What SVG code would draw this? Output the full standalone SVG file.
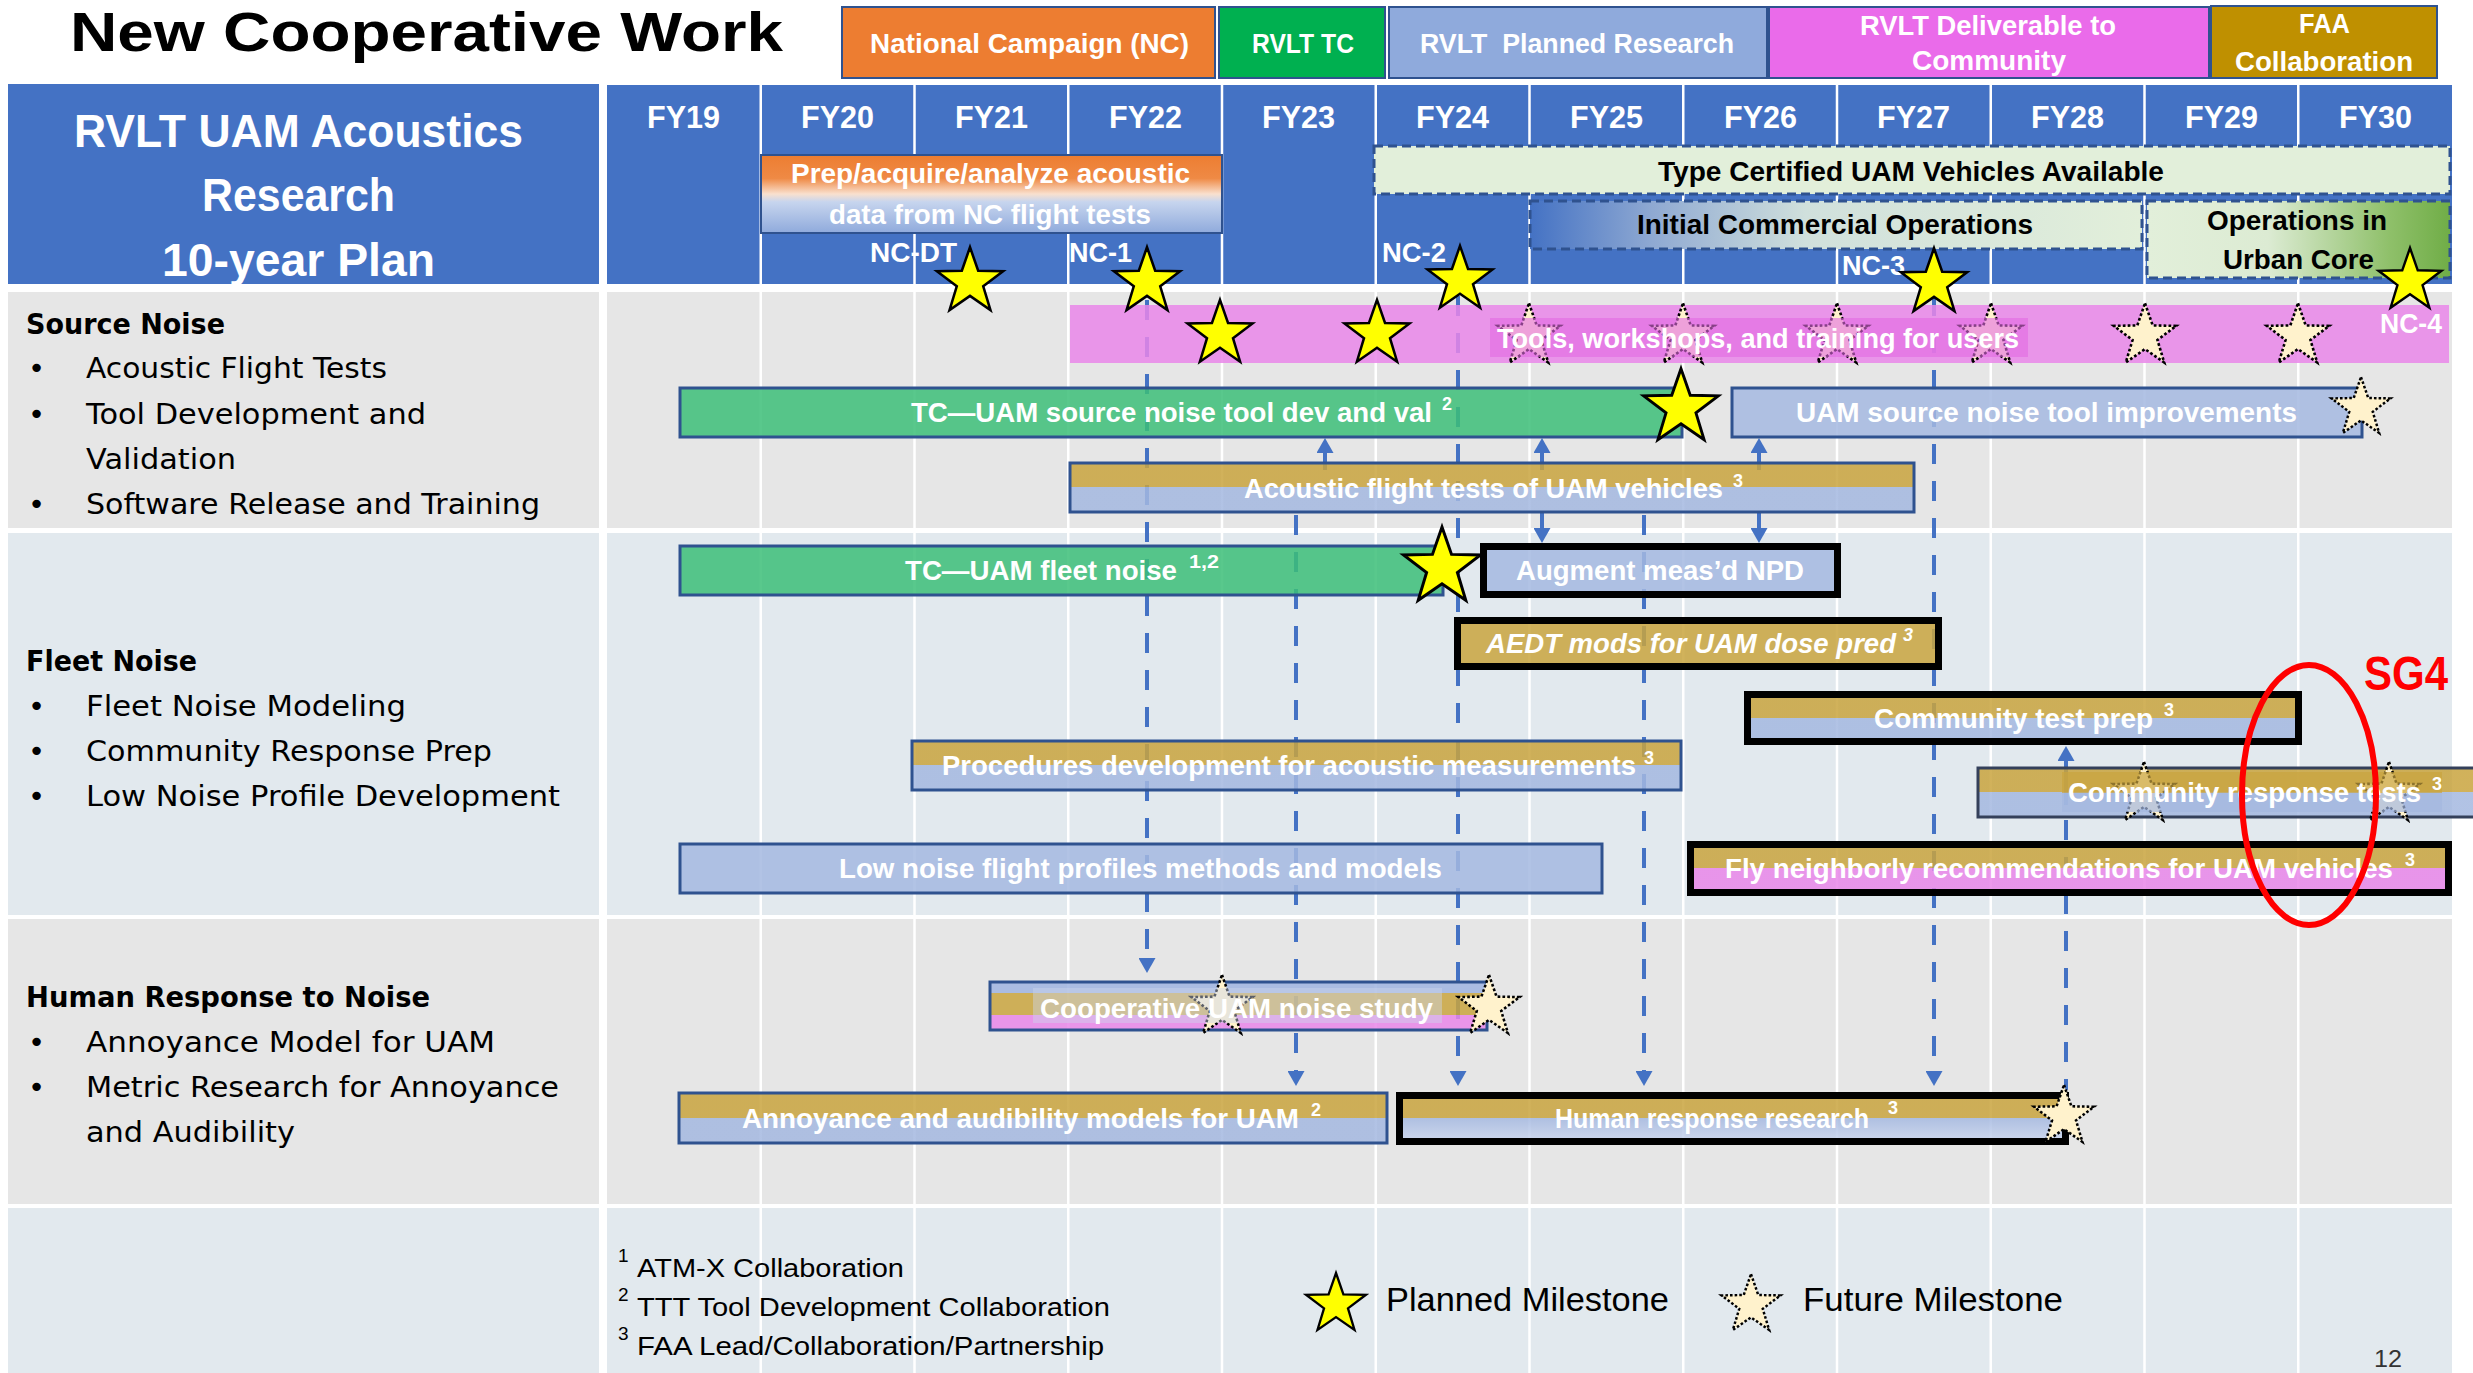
<svg xmlns="http://www.w3.org/2000/svg" width="2473" height="1373" viewBox="0 0 2473 1373">
<style>
text{font-family:"Liberation Sans",Arial,sans-serif}
.t{font-weight:bold;fill:#fff;font-size:28px}
.ti{font-weight:bold;font-style:italic;fill:#fff;font-size:28px}
.sup{font-weight:bold;fill:#fff;font-size:18px}
.lc{font-family:"DejaVu Sans",Verdana,sans-serif;font-size:29px;fill:#000}
.lh{font-family:"DejaVu Sans",Verdana,sans-serif;font-size:29px;font-weight:bold;fill:#000}
.fy{font-weight:bold;fill:#fff;font-size:31px}
.hd{font-weight:bold;fill:#000;font-size:27px}
.lg{font-weight:bold;fill:#fff;font-size:27px}
.nc{font-weight:bold;fill:#fff;font-size:27px}
.bb{stroke:#2F528F;stroke-width:3}
.bk{stroke:#000;stroke-width:7}
.op{fill-opacity:0.85}
.dash{stroke:#4472C4;stroke-width:4;stroke-dasharray:20 17;fill:none}
.solid{stroke:#4472C4;stroke-width:4;fill:none}
.pm{fill:#FFFF00;stroke:#000;stroke-width:2.2}
.fm{fill:#FFF2CC;stroke:#000;stroke-width:2.4;stroke-dasharray:2.5 2}
.grid{stroke:#fff;stroke-width:2.5;fill:none}
.ft{font-size:26px;fill:#000}
.fs{font-size:19px;fill:#000}
.lgd{font-size:33px;fill:#000}
.dashbox{stroke:#2F528F;stroke-width:3;stroke-dasharray:9 5}
</style>
<defs>
<path id="star" d="M0,-30 L7.05,-9.71 L28.53,-9.27 L11.41,3.71 L17.63,24.27 L0,12 L-17.63,24.27 L-11.41,3.71 L-28.53,-9.27 L-7.05,-9.71 Z"/>
<marker id="ah" markerUnits="userSpaceOnUse" markerWidth="15" markerHeight="17" refX="11" refY="8.5" orient="auto"><path d="M0,0 L15,8.5 L0,17 Z" fill="#4472C4"/></marker>
<linearGradient id="prep" x1="0" y1="0" x2="0" y2="1"><stop offset="0" stop-color="#ED7D31"/><stop offset="0.3" stop-color="#EF8A45"/><stop offset="0.5" stop-color="#F9E0CE"/><stop offset="0.6" stop-color="#C7D5EE"/><stop offset="1" stop-color="#8FAADC"/></linearGradient>
<linearGradient id="ico" x1="0" y1="0" x2="1" y2="0"><stop offset="0" stop-color="#4472C4"/><stop offset="0.2" stop-color="#8FA9D2"/><stop offset="0.45" stop-color="#D0E0DC"/><stop offset="1" stop-color="#E2EFDA"/></linearGradient>
<linearGradient id="urb" x1="0" y1="0" x2="1" y2="0"><stop offset="0" stop-color="#E2EFDA"/><stop offset="0.4" stop-color="#DCEBD3"/><stop offset="0.8" stop-color="#8FC06A"/><stop offset="1" stop-color="#70AD47"/></linearGradient>
<linearGradient id="gb" x1="0" y1="0" x2="0" y2="1"><stop offset="0.5" stop-color="#C9A43E"/><stop offset="0.5" stop-color="#A4B8E0"/></linearGradient>
<linearGradient id="gm" x1="0" y1="0" x2="0" y2="1"><stop offset="0.5" stop-color="#C9A43E"/><stop offset="0.5" stop-color="#E986E9"/></linearGradient>
<linearGradient id="gbh" x1="0" y1="0" x2="0" y2="1"><stop offset="0.48" stop-color="#C9A43E"/><stop offset="0.48" stop-color="#A4B8E0"/><stop offset="1" stop-color="#C9D5EE"/></linearGradient>
</defs>

<rect width="2473" height="1373" fill="#fff"/>

<g id="title">
<text x="70" y="51" font-size="56" font-weight="bold" fill="#000" textLength="713" lengthAdjust="spacingAndGlyphs">New Cooperative Work</text>
</g>

<g id="legend-boxes">
<rect x="842" y="7" width="373" height="71" fill="#ED7D31" stroke="#2F528F" stroke-width="2"/>
<text class="lg" x="870" y="53" textLength="319" lengthAdjust="spacingAndGlyphs">National Campaign (NC)</text>
<rect x="1219" y="7" width="166" height="71" fill="#00B050" stroke="#2F528F" stroke-width="2"/>
<text class="lg" x="1252" y="53" textLength="102" lengthAdjust="spacingAndGlyphs">RVLT TC</text>
<rect x="1389" y="7" width="378" height="71" fill="#8FAADC" stroke="#2F528F" stroke-width="2"/>
<text class="lg" x="1420" y="53" textLength="314" lengthAdjust="spacingAndGlyphs" xml:space="preserve">RVLT  Planned Research</text>
<rect x="1769" y="7" width="440" height="71" fill="#EA6BEA" stroke="#2F528F" stroke-width="2"/>
<text class="lg" x="1860" y="35" textLength="256" lengthAdjust="spacingAndGlyphs">RVLT Deliverable to</text>
<text class="lg" x="1912" y="70" textLength="154" lengthAdjust="spacingAndGlyphs">Community</text>
<rect x="2211" y="6" width="226" height="72" fill="#BF9000" stroke="#2F528F" stroke-width="2"/>
<text class="lg" x="2299" y="33" textLength="51" lengthAdjust="spacingAndGlyphs">FAA</text>
<text class="lg" x="2235" y="71" textLength="178" lengthAdjust="spacingAndGlyphs">Collaboration</text>
</g>

<g id="plan-title">
<rect x="8" y="84" width="591" height="200" fill="#4472C4"/>
<text x="74" y="147" font-size="46" font-weight="bold" fill="#fff" textLength="449" lengthAdjust="spacingAndGlyphs">RVLT UAM Acoustics</text>
<text x="202" y="211" font-size="46" font-weight="bold" fill="#fff" textLength="193" lengthAdjust="spacingAndGlyphs">Research</text>
<text x="162" y="276" font-size="46" font-weight="bold" fill="#fff" textLength="273" lengthAdjust="spacingAndGlyphs">10-year Plan</text>
</g>

<g id="backgrounds">
<rect x="607" y="85" width="1845" height="199" fill="#4472C4"/>
<rect x="8" y="292" width="591" height="236" fill="#E6E6E6"/>
<rect x="8" y="533" width="591" height="382" fill="#E2E9EE"/>
<rect x="8" y="919" width="591" height="285" fill="#E6E6E6"/>
<rect x="8" y="1208" width="591" height="165" fill="#E2E9EE"/>
<rect x="607" y="292" width="1845" height="236" fill="#E6E6E6"/>
<rect x="607" y="533" width="1845" height="382" fill="#E2E9EE"/>
<rect x="607" y="919" width="1845" height="285" fill="#E6E6E6"/>
<rect x="607" y="1208" width="1845" height="165" fill="#E2E9EE"/>
<path class="grid" d="M760.75,85V1373 M914.5,85V1373 M1068.25,85V1373 M1222,85V1373 M1375.75,85V1373 M1529.5,85V1373 M1683.25,85V1373 M1837,85V1373 M1990.75,85V1373 M2144.5,85V1373 M2298.25,85V1373"/>
</g>

<g id="years">
<text class="fy" x="647" y="128" textLength="73" lengthAdjust="spacingAndGlyphs">FY19</text>
<text class="fy" x="801" y="128" textLength="73" lengthAdjust="spacingAndGlyphs">FY20</text>
<text class="fy" x="955" y="128" textLength="73" lengthAdjust="spacingAndGlyphs">FY21</text>
<text class="fy" x="1109" y="128" textLength="73" lengthAdjust="spacingAndGlyphs">FY22</text>
<text class="fy" x="1262" y="128" textLength="73" lengthAdjust="spacingAndGlyphs">FY23</text>
<text class="fy" x="1416" y="128" textLength="73" lengthAdjust="spacingAndGlyphs">FY24</text>
<text class="fy" x="1570" y="128" textLength="73" lengthAdjust="spacingAndGlyphs">FY25</text>
<text class="fy" x="1724" y="128" textLength="73" lengthAdjust="spacingAndGlyphs">FY26</text>
<text class="fy" x="1877" y="128" textLength="73" lengthAdjust="spacingAndGlyphs">FY27</text>
<text class="fy" x="2031" y="128" textLength="73" lengthAdjust="spacingAndGlyphs">FY28</text>
<text class="fy" x="2185" y="128" textLength="73" lengthAdjust="spacingAndGlyphs">FY29</text>
<text class="fy" x="2339" y="128" textLength="73" lengthAdjust="spacingAndGlyphs">FY30</text>
</g>

<g id="prep-nc">
<rect x="761" y="155" width="461" height="78" fill="url(#prep)" stroke="#2F528F" stroke-width="2"/>
<text class="t" x="791" y="183" font-size="27" textLength="399" lengthAdjust="spacingAndGlyphs">Prep/acquire/analyze acoustic</text>
<text class="t" x="829" y="224" font-size="27" textLength="322" lengthAdjust="spacingAndGlyphs">data from NC flight tests</text>
</g>

<g id="type-certified">
<rect class="dashbox" x="1374" y="146" width="1076" height="48" fill="#E2EFDA"/>
<text class="hd" x="1658" y="181" textLength="506" lengthAdjust="spacingAndGlyphs">Type Certified UAM Vehicles Available</text>
</g>
<g id="initial-ops">
<rect class="dashbox" x="1530" y="201" width="612" height="48" fill="url(#ico)"/>
<text class="hd" x="1637" y="234" textLength="396" lengthAdjust="spacingAndGlyphs">Initial Commercial Operations</text>
</g>
<g id="urban-core">
<rect class="dashbox" x="2147" y="201" width="303" height="77" fill="url(#urb)"/>
<text class="hd" x="2207" y="230" textLength="180" lengthAdjust="spacingAndGlyphs">Operations in</text>
<text class="hd" x="2223" y="269" textLength="151" lengthAdjust="spacingAndGlyphs">Urban Core</text>
</g>

<g id="categories">
<text class="lh" x="26" y="334" textLength="199" lengthAdjust="spacingAndGlyphs">Source Noise</text>
<text class="lc" x="28" y="378">•</text><text class="lc" x="86" y="378" textLength="301" lengthAdjust="spacingAndGlyphs">Acoustic Flight Tests</text>
<text class="lc" x="28" y="424">•</text><text class="lc" x="86" y="424" textLength="340" lengthAdjust="spacingAndGlyphs">Tool Development and</text>
<text class="lc" x="86" y="469" textLength="150" lengthAdjust="spacingAndGlyphs">Validation</text>
<text class="lc" x="28" y="514">•</text><text class="lc" x="86" y="514" textLength="454" lengthAdjust="spacingAndGlyphs">Software Release and Training</text>
<text class="lh" x="26" y="671" textLength="171" lengthAdjust="spacingAndGlyphs">Fleet Noise</text>
<text class="lc" x="28" y="716">•</text><text class="lc" x="86" y="716" textLength="320" lengthAdjust="spacingAndGlyphs">Fleet Noise Modeling</text>
<text class="lc" x="28" y="761">•</text><text class="lc" x="86" y="761" textLength="406" lengthAdjust="spacingAndGlyphs">Community Response Prep</text>
<text class="lc" x="28" y="806">•</text><text class="lc" x="86" y="806" textLength="474" lengthAdjust="spacingAndGlyphs">Low Noise Profile Development</text>
<text class="lh" x="26" y="1007" textLength="404" lengthAdjust="spacingAndGlyphs">Human Response to Noise</text>
<text class="lc" x="28" y="1052">•</text><text class="lc" x="86" y="1052" textLength="409" lengthAdjust="spacingAndGlyphs">Annoyance Model for UAM</text>
<text class="lc" x="28" y="1097">•</text><text class="lc" x="86" y="1097" textLength="473" lengthAdjust="spacingAndGlyphs">Metric Research for Annoyance</text>
<text class="lc" x="86" y="1142" textLength="209" lengthAdjust="spacingAndGlyphs">and Audibility</text>
</g>

<g id="connectors">
<line class="dash" x1="1147" y1="300" x2="1147" y2="969" marker-end="url(#ah)"/>
<line class="dash" x1="1296" y1="515" x2="1296" y2="1082" marker-end="url(#ah)"/>
<line class="dash" x1="1458" y1="296" x2="1458" y2="1082" marker-end="url(#ah)"/>
<line class="dash" x1="1644" y1="515" x2="1644" y2="1082" marker-end="url(#ah)"/>
<line class="dash" x1="1934" y1="296" x2="1934" y2="1082" marker-end="url(#ah)"/>
<line class="dash" x1="2066" y1="820" x2="2066" y2="1090"/>
<line class="solid" x1="2066" y1="805" x2="2066" y2="750" marker-end="url(#ah)"/>
<line class="solid" x1="1325" y1="470" x2="1325" y2="442" marker-end="url(#ah)"/>
<line class="solid" x1="1542" y1="470" x2="1542" y2="442" marker-end="url(#ah)"/>
<line class="solid" x1="1759" y1="470" x2="1759" y2="442" marker-end="url(#ah)"/>
<line class="solid" x1="1542" y1="512" x2="1542" y2="539" marker-end="url(#ah)"/>
<line class="solid" x1="1759" y1="512" x2="1759" y2="539" marker-end="url(#ah)"/>
</g>

<g id="tools-training">
<rect class="op" x="1070" y="305" width="1379" height="58" fill="#E986E9"/>
<use href="#star" class="pm" transform="translate(1220,334) scale(1.14)"/>
<use href="#star" class="pm" transform="translate(1377,334) scale(1.14)"/>
<use href="#star" class="fm" transform="translate(1529,336) scale(1.09)"/>
<use href="#star" class="fm" transform="translate(1683,336) scale(1.09)"/>
<use href="#star" class="fm" transform="translate(1837,336) scale(1.09)"/>
<use href="#star" class="fm" transform="translate(1991,336) scale(1.09)"/>
<rect x="1490" y="318" width="538" height="39" fill="#E36BE3" opacity="0.6"/>
<use href="#star" class="fm" transform="translate(2145,336) scale(1.09)"/>
<use href="#star" class="fm" transform="translate(2298,336) scale(1.09)"/>
<text class="t" x="1497" y="348" textLength="522" lengthAdjust="spacingAndGlyphs">Tools, workshops, and training for users</text>
</g>

<g id="source-tool">
<rect class="bb op" x="680" y="388" width="1002" height="49" fill="#3CBE78"/>
<text class="t" x="911" y="422" textLength="521" lengthAdjust="spacingAndGlyphs">TC—UAM source noise tool dev and val</text>
<text class="sup" x="1442" y="410">2</text>
<use href="#star" class="pm" transform="translate(1681,408) scale(1.31)"/>
</g>

<g id="tool-improvements">
<rect class="bb op" x="1732" y="388" width="630" height="49" fill="#A4B8E0"/>
<text class="t" x="1796" y="422" textLength="501" lengthAdjust="spacingAndGlyphs">UAM source noise tool improvements</text>
<use href="#star" class="fm" transform="translate(2361,408) scale(1.03)"/>
</g>

<g id="acoustic-tests">
<rect class="bb op" x="1070" y="463" width="844" height="49" fill="url(#gb)"/>
<text class="t" x="1244" y="498" textLength="479" lengthAdjust="spacingAndGlyphs">Acoustic flight tests of UAM vehicles</text>
<text class="sup" x="1733" y="487">3</text>
</g>

<g id="fleet-noise">
<rect class="bb op" x="680" y="546" width="763" height="49" fill="#3CBE78"/>
<text class="t" x="905" y="580" textLength="272" lengthAdjust="spacingAndGlyphs">TC—UAM fleet noise</text>
<text class="sup" x="1189" y="568" textLength="30" lengthAdjust="spacingAndGlyphs">1,2</text>
<use href="#star" class="pm" transform="translate(1442,567.5) scale(1.35)"/>
</g>

<g id="augment-npd">
<rect class="bk op" x="1483.5" y="546.5" width="354" height="48" fill="#A4B8E0"/>
<text class="t" x="1516" y="580" textLength="288" lengthAdjust="spacingAndGlyphs">Augment meas’d NPD</text>
</g>

<g id="aedt-mods">
<rect class="bk op" x="1457.5" y="620.5" width="481" height="46" fill="#C9A43E"/>
<text class="ti" x="1486" y="653" textLength="410" lengthAdjust="spacingAndGlyphs">AEDT mods for UAM dose pred</text>
<text class="sup" x="1903" y="641" font-style="italic">3</text>
</g>

<g id="community-test-prep">
<rect class="bk op" x="1747.5" y="694.5" width="551" height="47" fill="url(#gb)"/>
<text class="t" x="1874" y="728" textLength="279" lengthAdjust="spacingAndGlyphs">Community test prep</text>
<text class="sup" x="2164" y="716">3</text>
</g>

<g id="procedures">
<rect class="bb op" x="912" y="741" width="769" height="49" fill="url(#gb)"/>
<text class="t" x="942" y="775" textLength="694" lengthAdjust="spacingAndGlyphs">Procedures development for acoustic measurements</text>
<text class="sup" x="1644" y="764">3</text>
</g>

<g id="community-response">
<rect class="op" x="1978" y="768" width="560" height="49" fill="url(#gb)" stroke="#34405A" stroke-width="3"/>
<use href="#star" class="fm" transform="translate(2144,794) scale(1.07)"/>
<use href="#star" class="fm" transform="translate(2389,794) scale(1.07)"/>
<rect x="2062" y="772" width="380" height="21" fill="#C9A43E" opacity="0.7"/>
<rect x="2062" y="793" width="380" height="19" fill="#A4B8E0" opacity="0.7"/>
<text class="t" x="2068" y="802" textLength="353" lengthAdjust="spacingAndGlyphs">Community response tests</text>
<text class="sup" x="2432" y="790">3</text>
</g>

<g id="low-noise">
<rect class="bb op" x="680" y="844" width="922" height="49" fill="#A4B8E0"/>
<text class="t" x="839" y="878" textLength="603" lengthAdjust="spacingAndGlyphs">Low noise flight profiles methods and models</text>
</g>

<g id="fly-neighborly">
<rect class="bk op" x="1690.5" y="844.5" width="758" height="48" fill="url(#gm)"/>
<text class="t" x="1725" y="878" textLength="668" lengthAdjust="spacingAndGlyphs">Fly neighborly recommendations for UAM vehicles</text>
<text class="sup" x="2405" y="866">3</text>
</g>

<g id="coop-study">
<rect class="op" x="990" y="982" width="497" height="11" fill="#9FB4E0"/>
<rect class="op" x="990" y="993" width="497" height="22" fill="#C9A43E"/>
<rect class="op" x="990" y="1015" width="497" height="15" fill="#E986E9"/>
<rect class="bb" x="990" y="982" width="497" height="48" fill="none"/>
<use href="#star" class="fm" transform="translate(1222,1007) scale(1.07)"/>
<rect x="1033" y="988" width="409" height="35" fill="#CBD4EA" opacity="0.45"/>
<text class="t" x="1040" y="1018" textLength="393" lengthAdjust="spacingAndGlyphs">Cooperative UAM noise study</text>
<use href="#star" class="fm" transform="translate(1489,1007) scale(1.07)"/>
</g>

<g id="annoyance-models">
<rect class="bb op" x="679" y="1093" width="708" height="50" fill="url(#gb)"/>
<text class="t" x="742" y="1128" textLength="557" lengthAdjust="spacingAndGlyphs">Annoyance and audibility models for UAM</text>
<text class="sup" x="1311" y="1116">2</text>
</g>

<g id="human-response">
<rect class="bk op" x="1399.5" y="1095.5" width="666" height="46" fill="url(#gbh)"/>
<text class="t" x="1555" y="1128" font-size="25" textLength="314" lengthAdjust="spacingAndGlyphs">Human response research</text>
<text class="sup" x="1888" y="1114">3</text>
<use href="#star" class="fm" transform="translate(2064,1116.5) scale(1.05)"/>
</g>

<g id="nc-milestones">
<text class="nc" x="870" y="262" textLength="87" lengthAdjust="spacingAndGlyphs">NC-DT</text>
<use href="#star" class="pm" transform="translate(970,282) scale(1.16)"/>
<text class="nc" x="1069" y="262" textLength="63" lengthAdjust="spacingAndGlyphs">NC-1</text>
<use href="#star" class="pm" transform="translate(1147,282) scale(1.16)"/>
<text class="nc" x="1382" y="262" textLength="64" lengthAdjust="spacingAndGlyphs">NC-2</text>
<use href="#star" class="pm" transform="translate(1460,280) scale(1.14)"/>
<text class="nc" x="1842" y="275" textLength="63" lengthAdjust="spacingAndGlyphs">NC-3</text>
<use href="#star" class="pm" transform="translate(1934,283) scale(1.16)"/>
<text class="nc" x="2380" y="333" textLength="62" lengthAdjust="spacingAndGlyphs">NC-4</text>
<use href="#star" class="pm" transform="translate(2410,281) scale(1.1)"/>
</g>

<g id="sg4">
<ellipse cx="2309" cy="795" rx="67" ry="130" fill="none" stroke="#FF0000" stroke-width="6"/>
<text x="2364" y="690" font-size="48" font-weight="bold" fill="#FF0000" textLength="84" lengthAdjust="spacingAndGlyphs">SG4</text>
</g>

<g id="footnotes">
<text class="fs" x="618" y="1262">1</text>
<text class="ft" x="637" y="1277" textLength="267" lengthAdjust="spacingAndGlyphs">ATM-X Collaboration</text>
<text class="fs" x="618" y="1301">2</text>
<text class="ft" x="637" y="1316" textLength="473" lengthAdjust="spacingAndGlyphs">TTT Tool Development Collaboration</text>
<text class="fs" x="618" y="1340">3</text>
<text class="ft" x="637" y="1355" textLength="467" lengthAdjust="spacingAndGlyphs">FAA Lead/Collaboration/Partnership</text>
</g>

<g id="milestone-legend">
<use href="#star" class="pm" transform="translate(1336,1304.5) scale(1.05)"/>
<text class="lgd" x="1386" y="1311" textLength="283" lengthAdjust="spacingAndGlyphs">Planned Milestone</text>
<use href="#star" class="fm" transform="translate(1751,1305) scale(1.03)"/>
<text class="lgd" x="1803" y="1311" textLength="260" lengthAdjust="spacingAndGlyphs">Future Milestone</text>
</g>

<g id="page-number">
<text x="2374" y="1367" font-size="24" fill="#333" textLength="28" lengthAdjust="spacingAndGlyphs">12</text>
</g>
</svg>
